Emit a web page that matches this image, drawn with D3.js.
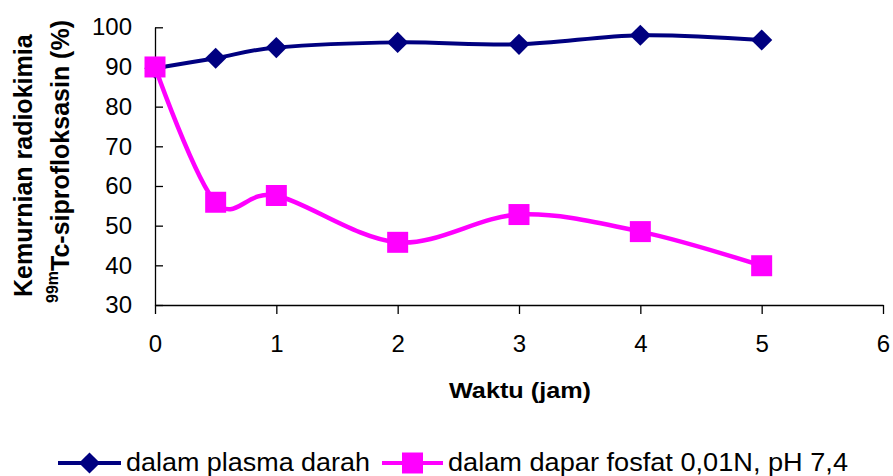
<!DOCTYPE html>
<html><head><meta charset="utf-8">
<script src="https://cdn.jsdelivr.net/npm/d3@7"></script>
<style>body{margin:0;background:#fff}svg{display:block}text{font-family:"Liberation Sans",Arial,sans-serif}</style>
</head><body><svg id="c" width="893" height="476"></svg>
<script>
const times = [0, 0.5, 1, 2, 3, 4, 5];
const plasma = [89.7, 92.2, 94.9, 96.2, 95.7, 98.0, 96.8];
const fosfat = [90, 55.9, 57.6, 45.8, 52.8, 48.5, 39.9];
const xTicks = [0, 1, 2, 3, 4, 5, 6];
const yTicks = [30, 40, 50, 60, 70, 80, 90, 100];
const seriesNames = ["dalam plasma darah", "dalam dapar fosfat 0,01N, pH 7,4"];
const colors = ["#000080", "#FF00FF"];

const svg = d3.select("#c");
const x = d3.scaleLinear().domain([0, 6]).range([155, 883]);
const y = d3.scaleLinear().domain([30, 100]).range([305, 27.3]);

const ya = svg.append("g").attr("transform","translate(155,0)")
  .call(d3.axisLeft(y).tickValues(yTicks).tickFormat(d3.format("d")).tickSizeInner(-8).tickSizeOuter(0).tickPadding(23));
const xa = svg.append("g").attr("transform","translate(0,305)")
  .call(d3.axisBottom(x).tickValues(xTicks).tickFormat(d3.format("d")).tickSizeInner(9).tickSizeOuter(0).tickPadding(21));
[ya, xa].forEach(g => {
  g.selectAll("path,line").attr("stroke","#000").attr("stroke-width",1.3);
  g.selectAll("text").attr("font-size",24).attr("fill","#000").style("font-family","'Liberation Sans',Arial,sans-serif");
});

// axis titles
svg.append("text").attr("x",520).attr("y",398).attr("text-anchor","middle")
  .attr("font-size",22).attr("font-weight","bold").attr("textLength",142).attr("lengthAdjust","spacingAndGlyphs")
  .text("Waktu (jam)");
svg.append("text").attr("transform","translate(32,297) rotate(-90)")
  .attr("font-size",25).attr("font-weight","bold").text("Kemurnian radiokimia");
const t2 = svg.append("text").attr("transform","translate(69,303) rotate(-90)")
  .attr("font-size",25).attr("font-weight","bold");
t2.append("tspan").attr("font-size",16).attr("dy",-11).text("99m");
t2.append("tspan").attr("dy",11).text("Tc-siprofloksasin (%)");

const line = d3.line().x((d,i)=>x(times[i])).y(d=>y(d)).curve(d3.curveCardinal.tension(0));
const diamond = d3.symbol(d3.symbolSquare, 225);
const square = d3.symbol(d3.symbolSquare, 441);

// plasma
svg.append("path").datum(plasma).attr("d",line).attr("fill","none").attr("stroke",colors[0]).attr("stroke-width",4);
svg.selectAll(".dm").data(plasma).join("path").attr("class","dm")
  .attr("d",diamond).attr("transform",(d,i)=>`translate(${x(times[i])},${y(d)}) rotate(45)`).attr("fill",colors[0]);
// fosfat
svg.append("path").datum(fosfat).attr("d",line).attr("fill","none").attr("stroke",colors[1]).attr("stroke-width",4.5);
svg.selectAll(".sq").data(fosfat).join("path").attr("class","sq")
  .attr("d",square).attr("transform",(d,i)=>`translate(${x(times[i])},${y(d)})`).attr("fill",colors[1]);

// legend
const leg = [{x0:58,x1:121,tx:126,w:244},{x0:382,x1:443,tx:448,w:400}];
leg.forEach((L,i)=>{
  svg.append("line").attr("x1",L.x0).attr("x2",L.x1).attr("y1",463).attr("y2",463).attr("stroke",colors[i]).attr("stroke-width",4);
  svg.append("path").attr("d", i===0?diamond:square)
    .attr("transform",`translate(${(L.x0+L.x1)/2},463)`+(i===0?" rotate(45)":"")).attr("fill",colors[i]);
  svg.append("text").attr("x",L.tx).attr("y",470.5).attr("font-size",25).attr("fill","#000")
    .attr("textLength",L.w).attr("lengthAdjust","spacingAndGlyphs").text(seriesNames[i]);
});
</script></body></html>
